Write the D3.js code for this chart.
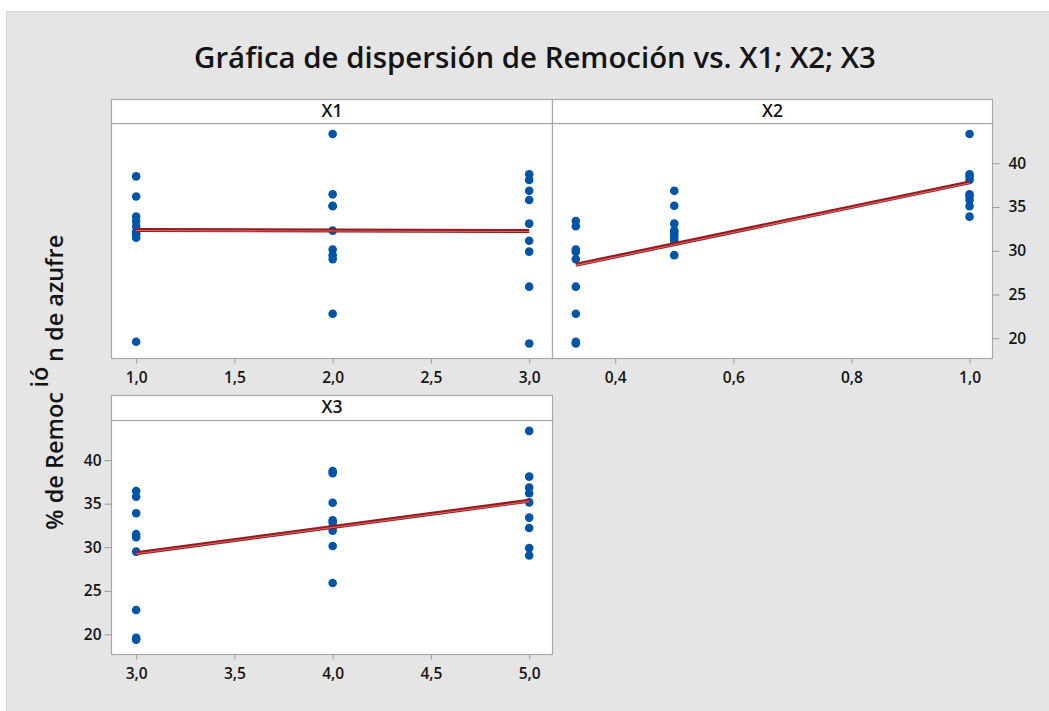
<!DOCTYPE html>
<html>
<head>
<meta charset="utf-8">
<script src="https://cdn.jsdelivr.net/npm/d3@7"></script>
<style>
  html, body { margin: 0; padding: 0; background: #ffffff; }
  svg { display: block; }
</style>
</head>
<body>
<svg id="chart" width="1049" height="711"></svg>
<script>
// ---- Data: % de Remoción de azufre from a 3x3x3 factorial run ----
const removal = [
  19.6, 32.8, 33.4,  31.5, 31.9, 32.2,  33.9, 38.5, 36.2,
  22.8, 30.15, 29.05, 29.5, 32.3, 35.15, 36.45, 35.1, 43.35,
  19.4, 25.9, 29.9,  31.15, 33.1, 36.85, 35.8, 38.75, 38.1
];
const x1 = [
  1, 1, 1, 1, 1, 1, 1, 1, 1,
  2, 2, 2, 2, 2, 2, 2, 2, 2,
  3, 3, 3, 3, 3, 3, 3, 3, 3
];
const x2 = [
  1/3, 1/3, 1/3, 0.5, 0.5, 0.5, 1, 1, 1,
  1/3, 1/3, 1/3, 0.5, 0.5, 0.5, 1, 1, 1,
  1/3, 1/3, 1/3, 0.5, 0.5, 0.5, 1, 1, 1
];
const x3 = [
  3, 4, 5, 3, 4, 5, 3, 4, 5,
  3, 4, 5, 3, 4, 5, 3, 4, 5,
  3, 4, 5, 3, 4, 5, 3, 4, 5
];

// ---- Tick labels ----
const x1Ticks = [1.0, 1.5, 2.0, 2.5, 3.0];
const x2Ticks = [0.4, 0.6, 0.8, 1.0];
const x3Ticks = [3.0, 3.5, 4.0, 4.5, 5.0];
const yTicks = [20, 25, 30, 35, 40];

const titleText = "Gráfica de dispersión de Remoción vs. X1; X2; X3";
const panelNames = ["X1", "X2", "X3"];

// ---- Styling ----
const FONT = "'Open Sans', 'Noto Sans', sans-serif";
const BG = "#e5e5e5";
const FRAME = "#a8a8a8";
const DOT = "#0054a6";
const TEXT = "#141414";

const locale = d3.formatLocale({decimal: ",", thousands: ".", grouping: [3], currency: ["", "€"]});
const fmt1 = locale.format(".1f");
const fmt0 = locale.format("d");

const svg = d3.select("#chart");

// outer chart area
svg.append("rect")
  .attr("x", 6.5).attr("y", 11.5)
  .attr("width", 1049).attr("height", 711)
  .attr("fill", BG).attr("stroke", "#d4d4d4");

// title, sized to span its line
const title = svg.append("text")
  .attr("x", 535).attr("y", 68)
  .attr("text-anchor", "middle")
  .attr("font-family", FONT).attr("font-weight", 600)
  .attr("font-size", 24).attr("fill", TEXT)
  .text(titleText);
{
  const w = title.node().getComputedTextLength();
  title.attr("font-size", 24 * 682 / w);
}

// least-squares fit
function fit(xs, ys) {
  const mx = d3.mean(xs), my = d3.mean(ys);
  let sxy = 0, sxx = 0;
  xs.forEach((x, i) => { sxy += (x - mx) * (ys[i] - my); sxx += (x - mx) * (x - mx); });
  const b = sxy / sxx;
  return x => my + b * (x - mx);
}

const yDomain = [17.75, 44.6];

const panels = [
  {name: panelNames[0], xs: x1, ticks: x1Ticks, domain: [0.872, 3.116], left: 111, right: 552, top: 99, head: 24, bottom: 358, yAxis: null},
  {name: panelNames[1], xs: x2, ticks: x2Ticks, domain: [0.293, 1.038], left: 552, right: 992, top: 99, head: 24, bottom: 358, yAxis: "right"},
  {name: panelNames[2], xs: x3, ticks: x3Ticks, domain: [2.872, 5.116], left: 111, right: 552, top: 395, head: 25, bottom: 654, yAxis: "left"}
];

const styleTicks = sel => {
  sel.select(".domain").remove();
  sel.selectAll("line").attr("stroke", "#9a9a9a");
  sel.selectAll("text").attr("font-family", FONT).attr("font-weight", 600)
    .attr("font-size", 15.5).attr("fill", TEXT);
};

panels.forEach(p => {
  const g = svg.append("g");
  const plotTop = p.top + p.head;
  const x = d3.scaleLinear().domain(p.domain).range([p.left, p.right]);
  const y = d3.scaleLinear().domain(yDomain).range([p.bottom, plotTop]);

  // plot area
  g.append("rect")
    .attr("x", p.left + 0.5).attr("y", plotTop + 0.5)
    .attr("width", p.right - p.left).attr("height", p.bottom - plotTop)
    .attr("fill", "#ffffff").attr("stroke", FRAME).attr("stroke-width", 1.2);

  // header strip
  g.append("rect")
    .attr("x", p.left + 0.5).attr("y", p.top + 0.5)
    .attr("width", p.right - p.left).attr("height", p.head)
    .attr("fill", "#ffffff").attr("stroke", FRAME).attr("stroke-width", 1.2);
  g.append("text")
    .attr("x", (p.left + p.right) / 2 + 0.5).attr("y", p.top + 17.5)
    .attr("text-anchor", "middle")
    .attr("font-family", FONT).attr("font-weight", 600)
    .attr("font-size", 17.5).attr("fill", TEXT)
    .text(p.name);

  // x axis
  g.append("g")
    .attr("transform", `translate(0,${p.bottom + 0.5})`)
    .call(d3.axisBottom(x).tickValues(p.ticks).tickFormat(fmt1).tickSize(5).tickPadding(8))
    .call(styleTicks);

  // y axis
  if (p.yAxis === "right") {
    g.append("g")
      .attr("transform", `translate(${p.right + 0.5},0)`)
      .call(d3.axisRight(y).tickValues(yTicks).tickFormat(fmt0).tickSize(7).tickPadding(9))
      .call(styleTicks);
  } else if (p.yAxis === "left") {
    g.append("g")
      .attr("transform", `translate(${p.left + 0.5},0)`)
      .call(d3.axisLeft(y).tickValues(yTicks).tickFormat(fmt0).tickSize(7).tickPadding(3))
      .call(styleTicks);
  }

  // points
  g.append("g").selectAll("circle")
    .data(removal.map((v, i) => ({x: p.xs[i], y: v})))
    .join("circle")
    .attr("cx", d => x(d.x)).attr("cy", d => y(d.y))
    .attr("r", 4.3).attr("fill", DOT);

  // fitted regression line
  const f = fit(p.xs, removal);
  const [lo, hi] = d3.extent(p.xs);
  const seg = [[lo, f(lo)], [hi, f(hi)]];
  const line = d3.line().x(d => x(d[0])).y(d => y(d[1]));
  g.append("path").attr("d", line(seg))
    .attr("stroke", "#981a1e").attr("stroke-width", 4).attr("fill", "none");
  g.append("path").attr("d", line(seg))
    .attr("stroke", "#cf6a6a").attr("stroke-width", 1.1).attr("fill", "none")
    .attr("transform", "translate(0,0.6)");
});

// y axis title, broken around the accented syllable
{
  const fs = 23.5;
  const piece = (txt, x, y, anchor) => svg.append("text")
    .attr("transform", `translate(${x},${y}) rotate(-90)`)
    .attr("text-anchor", anchor)
    .attr("font-family", FONT).attr("font-weight", 600)
    .attr("font-size", fs).attr("fill", TEXT)
    .text(txt);

  piece("% de Remoc", 63, 392, "end");
  piece("ió", 48, 377, "middle");
  piece("n de azufre", 63, 362, "start");
}
</script>
</body>
</html>
